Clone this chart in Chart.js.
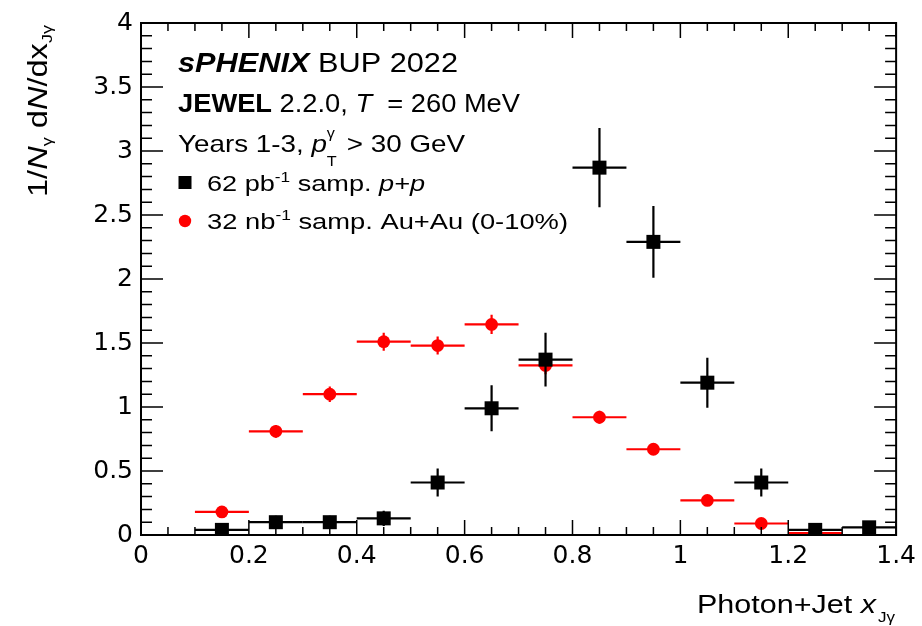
<!DOCTYPE html>
<html><head><meta charset="utf-8">
<script src="https://cdn.jsdelivr.net/npm/chart.js@4"></script>
<style>html,body{margin:0;padding:0;background:#fff}canvas{display:block}</style>
</head><body>
<canvas id="c" width="922" height="626"></canvas>
<script>
// ---- data ----
const xCenters = [0.15,0.25,0.35,0.45,0.55,0.65,0.75,0.85,0.95,1.05,1.15,1.25,1.35];
const binHalfWidth = 0.05;
const ppValues   = [0.04,0.10,0.10,0.13,0.41,0.99,1.37,2.87,2.29,1.19,0.41,0.04,0.06];
const ppErrors   = [0.02,0.05,0.05,0.06,0.11,0.18,0.21,0.31,0.28,0.195,0.11,0.02,0.02];
const auauValues = [0.18,0.81,1.10,1.51,1.48,1.645,1.325,0.92,0.67,0.27,0.09,0.015,0.0];
const auauErrors = [0.03,0.05,0.06,0.07,0.07,0.075,0.07,0.05,0.04,0.03,0.02,0.01,0.005];
const xTickValues = [0,0.2,0.4,0.6,0.8,1.0,1.2,1.4];
const xTickLabels = ['0','0.2','0.4','0.6','0.8','1','1.2','1.4'];
const yTickValues = [0,0.5,1,1.5,2,2.5,3,3.5,4];
const yTickLabels = ['0','0.5','1','1.5','2','2.5','3','3.5','4'];

const FAM = "'Liberation Sans', Arial, Helvetica, sans-serif";
const fnt = (size, style) => (style ? style + ' ' : '') + size + 'px ' + FAM;

function segWidth(ctx, s) {
  if (s.stack) {
    let m = 0;
    for (const k of s.stack) { ctx.font = k.f; m = Math.max(m, ctx.measureText(k.t).width); }
    return m + (s.pad || 0);
  }
  ctx.font = s.f; return ctx.measureText(s.t).width;
}
function drawRich(ctx, segs, x, y, targetW) {
  const W = segs.reduce((a, s) => a + segWidth(ctx, s), 0);
  const sc = targetW ? targetW / W : 1;
  ctx.save();
  ctx.translate(x, y); ctx.scale(sc, 1);
  ctx.textBaseline = 'alphabetic'; ctx.textAlign = 'left'; ctx.fillStyle = '#000';
  let cx = 0;
  for (const s of segs) {
    if (s.stack) { for (const k of s.stack) { ctx.font = k.f; ctx.fillText(k.t, cx, k.dy || 0); } }
    else { ctx.font = s.f; ctx.fillText(s.t, cx, s.dy || 0); }
    cx += segWidth(ctx, s);
  }
  ctx.restore();
}

const rootPlugin = {
  id: 'rootStyle',
  beforeDatasetDraw(chart, args) {
    const ds = chart.data.datasets[args.index];
    const xs = chart.scales.x, ys = chart.scales.y, ctx = chart.ctx, a = chart.chartArea;
    ctx.save();
    ctx.beginPath(); ctx.rect(a.left, a.top, a.right - a.left, a.bottom - a.top); ctx.clip();
    ctx.strokeStyle = ds.backgroundColor; ctx.lineWidth = 2.2; ctx.lineCap = 'butt';
    ds.data.forEach((p, i) => {
      const e = ds.errors[i];
      const px = xs.getPixelForValue(p.x), py = ys.getPixelForValue(p.y);
      ctx.beginPath();
      ctx.moveTo(xs.getPixelForValue(p.x - binHalfWidth), py);
      ctx.lineTo(xs.getPixelForValue(p.x + binHalfWidth), py);
      ctx.moveTo(px, ys.getPixelForValue(p.y - e));
      ctx.lineTo(px, ys.getPixelForValue(p.y + e));
      ctx.stroke();
    });
    ctx.restore();
  },
  afterDraw(chart) {
    const ctx = chart.ctx, a = chart.chartArea, xs = chart.scales.x, ys = chart.scales.y;
    ctx.save();
    // frame
    ctx.strokeStyle = '#000'; ctx.lineWidth = 2;
    ctx.strokeRect(a.left, a.top, a.right - a.left, a.bottom - a.top);
    ctx.lineWidth = 1.5;
    ctx.beginPath();
    for (let i = 0; i <= 28; i++) {
      const px = xs.getPixelForValue(i * 0.05);
      const L = (i % 4 === 0) ? 15 : 8;
      ctx.moveTo(px, a.bottom); ctx.lineTo(px, a.bottom - L);
      ctx.moveTo(px, a.top); ctx.lineTo(px, a.top + L);
    }
    for (let i = 0; i <= 40; i++) {
      const py = ys.getPixelForValue(i * 0.1);
      const L = (i % 5 === 0) ? 22 : 11;
      ctx.moveTo(a.left, py); ctx.lineTo(a.left + L, py);
      ctx.moveTo(a.right, py); ctx.lineTo(a.right - L, py);
    }
    ctx.stroke();
    ctx.restore();

    // legend / labels text
    drawRich(ctx, [{t:'sPHENIX', f:fnt(28,'italic bold')}, {t:' BUP 2022', f:fnt(28)}], 178, 72, 280);
    drawRich(ctx, [{t:'JEWEL', f:fnt(25,'bold')}, {t:' 2.2.0, ', f:fnt(25)}, {t:'T', f:fnt(25,'italic')}, {t:'  = 260 MeV', f:fnt(25)}], 178, 112, 342);
    drawRich(ctx, [{t:'Years 1-3, ', f:fnt(24)}, {t:'p', f:fnt(24,'italic')},
      {stack:[{t:'γ', f:fnt(14), dy:-14}, {t:'T', f:fnt(14), dy:14}], pad:2},
      {t:' > 30 GeV', f:fnt(24)}], 178, 152, 287);
    drawRich(ctx, [{t:'62 pb', f:fnt(22)}, {t:'-1', f:fnt(14), dy:-9}, {t:' samp. ', f:fnt(22)}, {t:'p+p', f:fnt(22,'italic')}], 207, 191, 218);
    drawRich(ctx, [{t:'32 nb', f:fnt(22)}, {t:'-1', f:fnt(14), dy:-9}, {t:' samp. Au+Au (0-10%)', f:fnt(22)}], 207, 228.5, 361);
    // legend markers
    ctx.save();
    ctx.fillStyle = '#000'; ctx.fillRect(178.5, 176, 13, 13);
    ctx.fillStyle = '#ff0000'; ctx.beginPath(); ctx.arc(185, 221, 6.2, 0, Math.PI * 2); ctx.fill();
    ctx.restore();

    // x-axis title
    drawRich(ctx, [{t:'Photon+Jet ', f:fnt(25)}, {t:'x', f:fnt(25,'italic')}, {t:' ', f:fnt(6)}, {t:'Jγ', f:fnt(14), dy:9}], 697, 613, 198);
    // y-axis title (rotated)
    ctx.save();
    ctx.translate(47, 197); ctx.rotate(-Math.PI / 2);
    drawRich(ctx, [{t:'1/', f:fnt(27)}, {t:'N', f:fnt(27,'italic')}, {t:'γ', f:fnt(15), dy:5},
      {t:' d', f:fnt(27)}, {t:'N', f:fnt(27,'italic')}, {t:'/dx', f:fnt(27)}, {t:'Jγ', f:fnt(15), dy:5}], 0, 0, 172);
    ctx.restore();
  }
};

const tickFont = {family: "'DejaVu Sans', 'Liberation Sans', sans-serif", size: 25};

new Chart(document.getElementById('c'), {
  type: 'scatter',
  data: {
    datasets: [
      { label: '62 pb-1 samp. p+p', data: xCenters.map((x, i) => ({x: x, y: ppValues[i]})), errors: ppErrors,
        pointStyle: 'rect', pointRadius: 9.9, backgroundColor: '#000000', borderWidth: 0, showLine: false },
      { label: '32 nb-1 samp. Au+Au (0-10%)', data: xCenters.map((x, i) => ({x: x, y: auauValues[i]})), errors: auauErrors,
        pointStyle: 'circle', pointRadius: 6.4, backgroundColor: '#ff0000', borderWidth: 0, showLine: false }
    ]
  },
  options: {
    responsive: false, animation: false, devicePixelRatio: 1, events: [],
    layout: {padding: {top: 22, right: 24, left: 0, bottom: 0}},
    plugins: {legend: {display: false}, tooltip: {enabled: false}},
    scales: {
      x: { type: 'linear', min: 0, max: 1.4,
        afterBuildTicks: s => { s.ticks = xTickValues.map(v => ({value: v})); },
        afterFit: s => { s.height = 91; },
        grid: {display: false, drawTicks: false}, border: {display: false},
        ticks: {font: tickFont, color: '#000', padding: 6, maxRotation: 0, autoSkip: false,
          callback: (v, i) => xTickLabels[i]} },
      y: { type: 'linear', min: 0, max: 4,
        afterBuildTicks: s => { s.ticks = yTickValues.map(v => ({value: v})); },
        afterFit: s => { s.width = 141; },
        grid: {display: false, drawTicks: false}, border: {display: false},
        ticks: {font: tickFont, color: '#000', padding: 8, autoSkip: false,
          callback: (v, i) => yTickLabels[i]} }
    }
  },
  plugins: [rootPlugin]
});
</script>
</body></html>
